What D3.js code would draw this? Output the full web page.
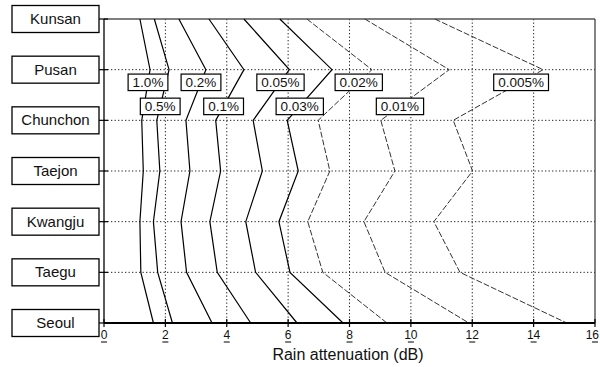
<!DOCTYPE html>
<html>
<head>
<meta charset="utf-8">
<script src="https://cdn.jsdelivr.net/npm/d3@7"></script>
<style>
  html, body { margin: 0; padding: 0; background: #fff; }
  svg { display: block; }
  text { font-family: "Liberation Sans", Arial, Helvetica, sans-serif; fill: #111; }
</style>
</head>
<body>
<svg id="chart" width="600" height="367"></svg>
<script>
// ---- Data ----
const cities = ["Kunsan", "Pusan", "Chunchon", "Taejon", "Kwangju", "Taegu", "Seoul"];
const xTicks = [0, 2, 4, 6, 8, 10, 12, 14, 16];
const percentLabels = ["1.0%", "0.5%", "0.2%", "0.1%", "0.05%", "0.03%", "0.02%", "0.01%", "0.005%"];
// rain attenuation (dB) per city, in the order of `cities`
const p1_0   = [1.17, 1.50, 1.23, 1.28, 1.17, 1.20, 1.61];
const p0_5   = [1.64, 2.12, 1.72, 1.82, 1.61, 1.75, 2.23];
const p0_2   = [2.44, 3.32, 2.67, 2.80, 2.51, 2.69, 3.52];
const p0_1   = [3.42, 4.56, 3.64, 3.80, 3.45, 3.69, 4.78];
const p0_05  = [4.56, 6.04, 4.86, 5.16, 4.62, 4.94, 6.29];
const p0_03  = [5.73, 7.43, 5.97, 6.33, 5.70, 6.06, 7.79];
const p0_02  = [6.61, 8.73, 6.98, 7.36, 6.64, 7.13, 9.22];
const p0_01  = [8.50, 11.25, 9.02, 9.48, 8.47, 9.16, 11.89];
const p0_005 = [10.78, 14.31, 11.38, 12.01, 10.75, 11.60, 15.08];
const xTitle = "Rain attenuation (dB)";

const seriesValues = [p1_0, p0_5, p0_2, p0_1, p0_05, p0_03, p0_02, p0_01, p0_005];
const series = percentLabels.map((lab, i) => ({
  label: lab,
  values: cities.map((c, j) => ({ city: c, v: seriesValues[i][j] }))
}));

(function () {
// ---- Layout ----
const svg = d3.select("#chart");
const x = d3.scaleLinear().domain([0, 16]).range([104, 595]);
const y = d3.scalePoint().domain(cities).range([19, 323]);
const pL = x(0), pR = x(16), pT = y(cities[0]), pB = y(cities[cities.length - 1]);

// dotted grid
const grid = svg.append("g").attr("stroke", "#222").attr("stroke-width", 1).attr("stroke-dasharray", "1.3,2.2");
grid.selectAll("line.h").data(cities.slice(1, -1)).join("line")
  .attr("x1", pL).attr("x2", pR).attr("y1", d => y(d)).attr("y2", d => y(d));
grid.selectAll("line.v").data(xTicks.slice(1, -1)).join("line")
  .attr("x1", d => x(d)).attr("x2", d => x(d)).attr("y1", pT).attr("y2", pB);

// frame
svg.append("line").attr("x1", pL).attr("x2", pR).attr("y1", pT).attr("y2", pT)
  .attr("stroke", "#555").attr("stroke-width", 1.3);
svg.append("line").attr("x1", pR).attr("x2", pR).attr("y1", pT).attr("y2", pB)
  .attr("stroke", "#333").attr("stroke-width", 1.2);
svg.append("line").attr("x1", pL).attr("x2", pL).attr("y1", pT).attr("y2", pB)
  .attr("stroke", "#000").attr("stroke-width", 1.3);

// left row ticks
svg.append("g").selectAll("line").data(cities).join("line")
  .attr("x1", 99).attr("x2", pL + 4).attr("y1", d => y(d)).attr("y2", d => y(d))
  .attr("stroke", "#000").attr("stroke-width", 1.2);

// lines
const lineGen = d3.line().x(d => x(d.v)).y(d => y(d.city));
svg.append("g").selectAll("path").data(series).join("path")
  .attr("d", d => lineGen(d.values))
  .attr("fill", "none")
  .attr("stroke", (d, i) => i < 6 ? "#000" : "#333")
  .attr("stroke-width", (d, i) => i < 6 ? 1.2 : 1)
  .attr("stroke-dasharray", (d, i) => i < 6 ? null : "6,2");

// bottom axis
svg.append("line").attr("x1", pL).attr("x2", pR).attr("y1", pB).attr("y2", pB)
  .attr("stroke", "#000").attr("stroke-width", 2);
const xt = svg.append("g");
xt.selectAll("line.t").data(xTicks).join("line").attr("class", "t")
  .attr("x1", d => x(d)).attr("x2", d => x(d)).attr("y1", pB - 4).attr("y2", pB + 4)
  .attr("stroke", "#000").attr("stroke-width", 1.2);
const lastTick = xTicks[xTicks.length - 1];
xt.selectAll("text").data(xTicks).join("text")
  .attr("x", d => d === lastTick ? 599 : x(d)).attr("y", pB + 16)
  .attr("text-anchor", d => d === lastTick ? "end" : "middle").attr("font-size", 12)
  .text(d => d);
xt.selectAll("line.u").data(xTicks).join("line").attr("class", "u")
  .attr("x1", d => x(d) - 3).attr("x2", d => x(d) + 3)
  .attr("y1", pB + 19).attr("y2", pB + 19)
  .attr("stroke", "#000").attr("stroke-width", 1);

svg.append("text").attr("x", 348).attr("y", 360).attr("text-anchor", "middle")
  .attr("font-size", 16).text(xTitle);

// percent labels (boxes on the Pusan–Chunchon segment)
const lab = svg.append("g");
series.forEach((s, i) => {
  const t = i % 2 === 0 ? 0.245 : 0.72;
  const a = s.values[1], b = s.values[2];
  const cx = x(a.v) + (x(b.v) - x(a.v)) * t;
  const cy = y(a.city) + (y(b.city) - y(a.city)) * t;
  const g = lab.append("g");
  const txt = g.append("text").attr("x", cx).attr("y", cy + 5)
    .attr("text-anchor", "middle").attr("font-size", 13.5).text(s.label);
  const w = txt.node().getComputedTextLength() + 9;
  g.insert("rect", "text").attr("x", cx - w / 2).attr("y", cy - 8).attr("width", w).attr("height", 16.5)
    .attr("fill", "#fff").attr("stroke", "#000").attr("stroke-width", 1.2);
});

// city boxes
const cg = svg.append("g").selectAll("g").data(cities).join("g");
cg.append("rect").attr("x", 12).attr("y", d => y(d) - 13.5).attr("width", 87).attr("height", 27)
  .attr("fill", "#fff").attr("stroke", "#000").attr("stroke-width", 1.3);
cg.append("text").attr("x", 55.5).attr("y", d => y(d) + 5)
  .attr("text-anchor", "middle").attr("font-size", 15).text(d => d);
})();
</script>
</body>
</html>
